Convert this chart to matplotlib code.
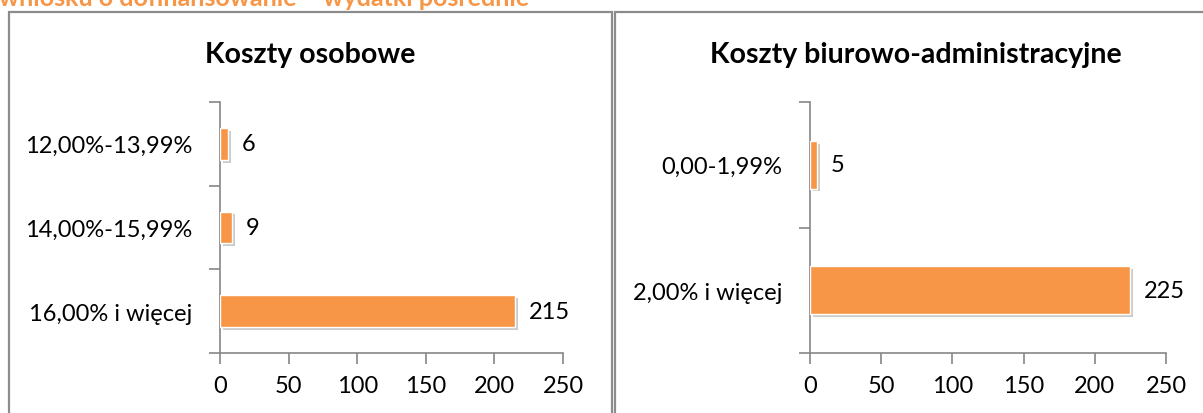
import matplotlib
matplotlib.use("Agg")
import matplotlib.pyplot as plt
from matplotlib.patches import Rectangle
import matplotlib.patheffects as pe

plt.rcParams['font.family'] = ['Lato', 'DejaVu Sans']

header = "wniosku o dofinansowanie – wydatki pośrednie"
titles = ["Koszty osobowe", "Koszty biurowo-administracyjne"]
cats_left = ["12,00%-13,99%", "14,00%-15,99%", "16,00% i więcej"]
vals_left = [6, 9, 215]
cats_right = ["0,00-1,99%", "2,00% i więcej"]
vals_right = [5, 225]
xticks = [0, 50, 100, 150, 200, 250]

W, H = 1203, 414
fig = plt.figure(figsize=(W / 100, H / 100), dpi=100)

def fx(x): return x / W
def fy(y): return 1 - y / H

# panel borders
for (x0, x1) in [(9, 612), (615, 1210)]:
    r = Rectangle((fx(x0), fy(430)), fx(x1 - x0), (430 - 13) / H, transform=fig.transFigure,
                  fill=False, edgecolor='#8c8c8c', linewidth=1.6)
    fig.add_artist(r)

fig.text(fx(-1), fy(-1), header, color='#f79646', fontsize=18, fontweight='bold',
         ha='left', va='center')

orange = '#f79646'
axis_color = '#868686'
fs = 17

def make(ax_box, cats, vals, title, title_x):
    x0, x1, y0, y1 = ax_box
    ax = fig.add_axes([fx(x0), fy(y1), fx(x1 - x0), (y1 - y0) / H])
    n = len(cats)
    pos = list(range(n))[::-1]
    bars = ax.barh(pos, vals, height=0.38, color=orange, edgecolor='white', linewidth=1.0, zorder=3)
    for b in bars:
        b.set_path_effects([pe.SimplePatchShadow(offset=(2, -2), shadow_rgbFace='#999999', alpha=0.5),
                            pe.Normal()])
    ax.set_xlim(0, 250)
    ax.set_ylim(-0.5, n - 0.5)
    ax.set_xticks(xticks)
    ax.set_xticklabels([str(t) for t in xticks], fontsize=fs)
    ax.set_yticks([p - 0.5 for p in range(n + 1)], minor=False)
    ax.set_yticklabels([])
    ax.set_yticks(pos, minor=True)
    ax.set_yticklabels(cats, minor=True, fontsize=fs)
    ax.tick_params(axis='y', which='minor', length=0, pad=20)
    ax.tick_params(axis='y', which='major', length=8, color=axis_color, width=1.2)
    ax.tick_params(axis='x', length=8, color=axis_color, width=1.2, pad=8)
    for s in ['top', 'right']:
        ax.spines[s].set_visible(False)
    for s in ['left', 'bottom']:
        ax.spines[s].set_color(axis_color)
        ax.spines[s].set_linewidth(1.2)
    for p, v in zip(pos, vals):
        ax.annotate(str(v), (v, p), xytext=(10, 0), textcoords='offset points',
                    va='center', ha='left', fontsize=fs)
    ax.patch.set_alpha(0)
    fig.text(fx(title_x), fy(55), title, fontsize=20.5, fontweight='bold', ha='center', va='center')
    return ax

make((220, 563, 103, 354), cats_left, vals_left, titles[0], 310)
make((810, 1166, 103, 354), cats_right, vals_right, titles[1], 916)

fig.savefig("out.png", dpi=100)
